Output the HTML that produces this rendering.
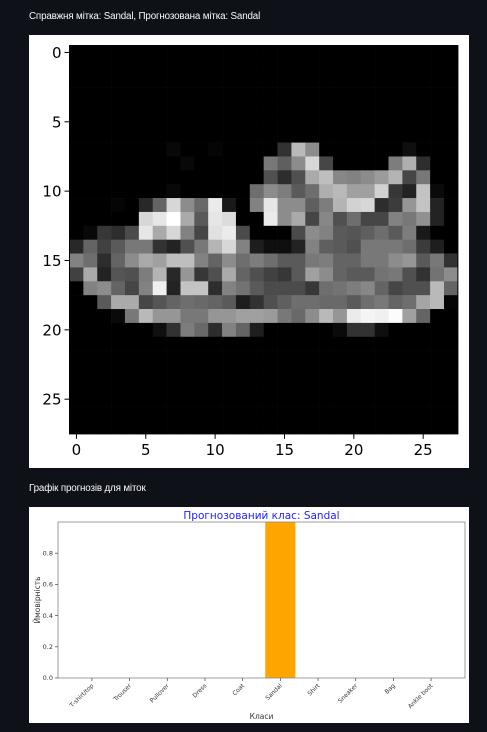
<!DOCTYPE html>
<html><head><meta charset="utf-8"><style>
body{margin:0;background:#0e1117;width:487px;height:732px;overflow:hidden;font-family:"Liberation Sans",sans-serif}
.t{position:absolute;color:#fafafa;font-size:9.8px;letter-spacing:-0.15px;left:29px}
</style></head><body>
<div class="t" style="top:11px">Справжня мітка: Sandal, Прогнозована мітка: Sandal</div>
<div class="t" style="top:483px">Графік прогнозів для міток</div>
<svg id="img" width="487" height="732" style="position:absolute;left:0;top:0"></svg>
<script>
const rows=[];
for(let r=0;r<28;r++)rows.push(new Array(28).fill(0));
const setRow=(r,start,vals)=>{vals.forEach((v,i)=>rows[r][start+i]=v);};
setRow(7,7,[8]);setRow(7,10,[5]);setRow(7,15,[50,185,140]);setRow(7,24,[15]);
setRow(8,8,[8]);setRow(8,14,[120,95,140,215,70]);setRow(8,23,[125,175,45]);
setRow(9,14,[80,45,80,170,190,135,130,140,155,180,70,120]);
setRow(10,7,[8]);setRow(10,13,[110,140,125,90,110,175,185,160,160,210,55,35,195,10]);
setRow(11,3,[5,0,40,100,215,140,105,235,25,0,130,230,140,140,95,125,180,210,215,45,60,150,195,35]);
setRow(12,5,[215,230,255,170,90,230,220,0,0,235,140,170,70,135,80,110,70,70,130,120,145,35]);
setRow(13,1,[8,55,45,75,230,170,215,130,70,225,235,75,0,0,0,75,140,130,90,85,95,110,90,125,25]);
setRow(14,0,[40,100,65,90,120,120,50,35,80,120,180,215,130,30,15,15,35,130,95,90,80,120,120,120,110,60,30]);
setRow(15,0,[130,110,45,100,140,170,160,190,190,130,100,140,110,125,110,90,90,120,125,100,100,120,120,140,150,90,120,50]);
setRow(16,0,[65,170,35,85,80,125,180,40,150,55,80,170,100,80,65,55,90,160,140,100,90,90,115,120,80,50,115,140]);
setRow(17,0,[0,130,140,100,70,130,240,35,195,195,45,130,115,90,75,75,75,55,110,115,125,135,100,70,80,80,185,100]);
setRow(18,0,[0,0,90,170,170,70,85,100,110,105,100,90,30,50,80,95,110,110,105,105,90,110,120,100,110,165,185,5]);
setRow(19,0,[0,0,0,10,120,185,150,150,120,120,150,150,160,160,155,120,105,140,185,150,235,245,240,252,160,100,0,0]);
setRow(20,6,[15,50,125,105,45,130,100,30,0,0,0,0,0,10,50,50,15]);
const imgTicks=[0,5,10,15,20,25];
const classes=["T-shirt/top","Trouser","Pullover","Dress","Coat","Sandal","Shirt","Sneaker","Bag","Ankle boot"];
const probs=[0,0,0,0,0,1.0,0,0,0,0];
const yTicks=[0.0,0.2,0.4,0.6,0.8];

const NS="http://www.w3.org/2000/svg";
const svg=document.getElementById('img');
function mk(t,a,p){const e=document.createElementNS(NS,t);for(const k in a)e.setAttribute(k,a[k]);(p||svg).appendChild(e);return e;}
const bg=mk('rect',{x:29,y:35,width:440,height:433,fill:'#fff'});


const X0=69.5,Y0=45.5,C=13.87;
const px=c=>X0+c*C, py=r=>Y0+r*C;
for(let r=0;r<28;r++)for(let c=0;c<28;c++){const v=rows[r][c];
 const e=mk('rect',{x:px(c),y:py(r),width:C+0.3,height:C+0.3,fill:`rgb(${v},${v},${v})`});
 
 }
mk('rect',{x:X0,y:Y0,width:28*C,height:28*C,fill:'none',stroke:'#000','stroke-width':1});
imgTicks.forEach(t=>{
 const yy=py(t+0.5),xx=px(t+0.5);
 mk('line',{x1:X0-5,x2:X0,y1:yy,y2:yy,stroke:'#000'});
 const a=mk('text',{x:X0-8,y:yy+5.5,'text-anchor':'end','font-size':15,'font-family':'DejaVu Sans, sans-serif',fill:'#000'});a.textContent=t;
 
 
 mk('line',{x1:xx,x2:xx,y1:Y0+28*C,y2:Y0+28*C+5,stroke:'#000'});
 const b=mk('text',{x:xx,y:Y0+28*C+21,'text-anchor':'middle','font-size':15,'font-family':'DejaVu Sans, sans-serif',fill:'#000'});b.textContent=t;
 
 
});
const bg2=mk('rect',{x:29,y:507,width:440,height:216,fill:'#fff'});


const L=58,R=465,T=522,B=678;
const xs=i=>L+(i+0.9)*(R-L)/10.8, ys=v=>B-v*(B-T);
const bw=0.8*(R-L)/10.8;
probs.forEach((p,i)=>{const e=mk('rect',{x:xs(i)-bw/2,y:ys(p),width:bw,height:B-ys(p),fill:'#ffa500'});
 
 });
mk('rect',{x:L,y:T,width:R-L,height:B-T,fill:'none',stroke:'#888','stroke-width':0.8});
yTicks.forEach(t=>{mk('line',{x1:L-3,x2:L,y1:ys(t),y2:ys(t),stroke:'#444','stroke-width':0.7});
 const a=mk('text',{x:L-5,y:ys(t)+2.2,'text-anchor':'end','font-size':6.5,'font-family':'DejaVu Sans, sans-serif',fill:'#333'});a.textContent=t.toFixed(1);
 
 });
classes.forEach((c,i)=>{const x=xs(i);mk('line',{x1:x,x2:x,y1:B,y2:B+3,stroke:'#444','stroke-width':0.7});
 const a=mk('text',{x:x+2,y:B+8,'text-anchor':'end','font-size':6,'font-family':'DejaVu Sans, sans-serif',fill:'#333',transform:`rotate(-45 ${x+2} ${B+8})`});a.textContent=c;
 
 });
const tt=mk('text',{x:(L+R)/2,y:519,'text-anchor':'middle','font-size':10.5,'font-family':'DejaVu Sans, sans-serif',fill:'#2222ff'});tt.textContent='Прогнозований клас: Sandal';


const xl=mk('text',{x:(L+R)/2,y:719,'text-anchor':'middle','font-size':7.5,'font-family':'DejaVu Sans, sans-serif',fill:'#333'});xl.textContent='Класи';


const yl=mk('text',{x:40,y:(T+B)/2,'text-anchor':'middle','font-size':7.5,'font-family':'DejaVu Sans, sans-serif',fill:'#333',transform:`rotate(-90 40 ${(T+B)/2})`});yl.textContent='Ймовірність';


</script>
</body></html>
